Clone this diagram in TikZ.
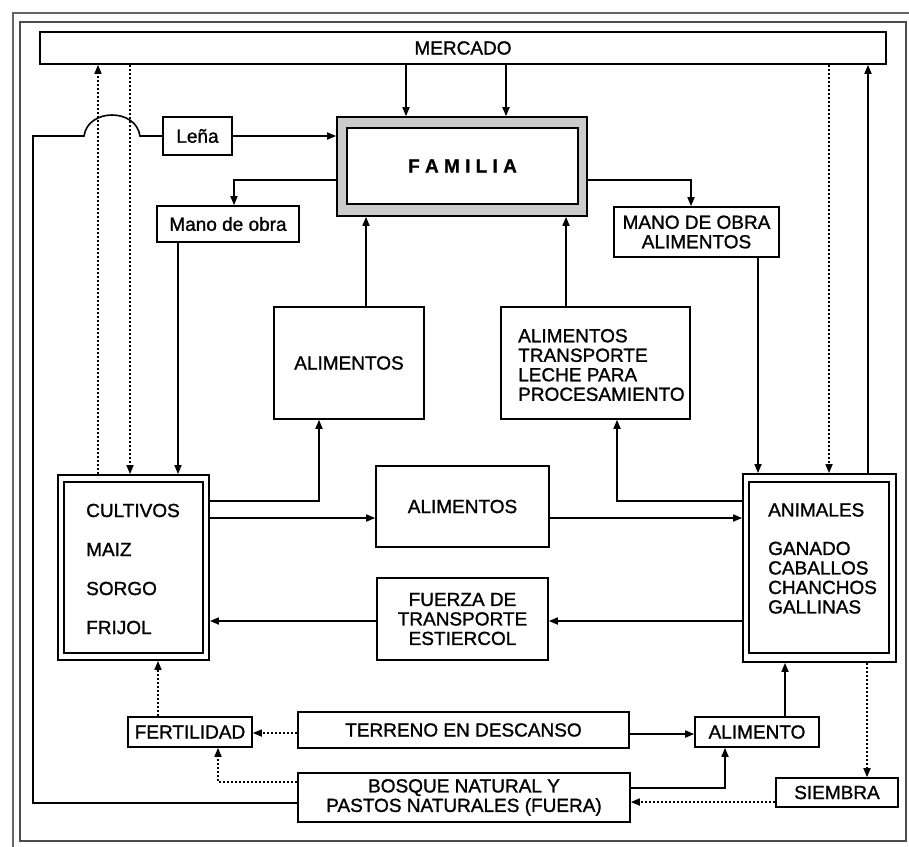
\documentclass[tikz,border=0pt]{standalone}
\usepackage{fontspec}
\setmainfont[FakeBold=1.2]{Liberation Sans}
\usetikzlibrary{arrows.meta}
\begin{document}
\begin{tikzpicture}[x=1pt,y=-1pt,
  every node/.style={inner sep=0pt, align=center, font=\fontsize{19}{19.5}\selectfont},
  box/.style={draw, line width=1.6pt, rectangle},
  arr/.style={line width=1.6pt, -{Triangle[length=9pt,width=7pt]}},
  ln/.style={line width=1.6pt},
  dots/.style={line width=1.6pt, dash pattern=on 2pt off 2pt, -{Triangle[length=9pt,width=7pt]}}
]
\useasboundingbox (0,0) rectangle (909,846);
% page frame
\draw[line width=1.2pt, black!60] (13,13) rectangle (915,852);
\draw[line width=1.5pt, black!70] (20,22) rectangle (906,841);

% boxes
\node[box, minimum width=846, minimum height=32] (merc) at (463,48) {MERCADO};
\node[box, draw=black, fill=gray!40, minimum width=250, minimum height=99] (fam) at (462,166.5) {};
\node[box, fill=white, minimum width=231, minimum height=76] (famin) at (462.5,166) {\bfseries F A M I L I A};
\node[box, minimum width=69, minimum height=38] (lena) at (197.5,136) {Leña};
\node[box, minimum width=142, minimum height=36] (mano) at (228,224) {Mano de obra};
\node[box, minimum width=165, minimum height=50] (mao) at (696.5,232) {MANO DE OBRA\\ALIMENTOS};
\node[box, minimum width=150, minimum height=112] (alA) at (349,363) {ALIMENTOS};
\node[box, minimum width=189, minimum height=112] (alT) at (595.5,363) {};
\node[anchor=west, align=left] (alTtxt) at (518,365) {ALIMENTOS\\TRANSPORTE\\LECHE PARA\\PROCESAMIENTO};

\node[box, line width=1.8pt, minimum width=151, minimum height=185] (cult) at (133.5,567.5) {};
\node[box, line width=1.3pt, minimum width=139, minimum height=171] (cultin) at (133.5,567.5) {};
\node[anchor=west, align=left, font=\fontsize{19}{39}\selectfont] (culttxt) at (86,569) {CULTIVOS\\MAIZ\\SORGO\\FRIJOL};

\node[box, line width=1.8pt, minimum width=153, minimum height=188] (anim) at (819.5,568) {};
\node[box, line width=1.3pt, minimum width=140, minimum height=171] (animin) at (819,567.5) {};
\node[anchor=north west, align=left] (animtxt) at (768,503) {ANIMALES\\[19pt]GANADO\\CABALLOS\\CHANCHOS\\GALLINAS};

\node[box, minimum width=173, minimum height=81] (alM) at (462.5,506.5) {ALIMENTOS};
\node[box, minimum width=171, minimum height=82] (fuer) at (462.5,619) {FUERZA DE\\TRANSPORTE\\ESTIERCOL};

\node[box, minimum width=124, minimum height=30] (fert) at (190,732) {FERTILIDAD};
\node[box, minimum width=331, minimum height=36] (terr) at (463.5,730) {TERRENO EN DESCANSO};
\node[box, minimum width=124, minimum height=30] (alim) at (757,732) {ALIMENTO};
\node[box, minimum width=332, minimum height=49] (bosq) at (464,797.5) {BOSQUE NATURAL Y\\PASTOS NATURALES (FUERA)};
\node[box, minimum width=122, minimum height=29] (siem) at (837,792.5) {SIEMBRA};

% market and family
\draw[arr] (406,0 |- merc.south) -- (406,0 |- fam.north);
\draw[arr] (506,0 |- merc.south) -- (506,0 |- fam.north);
\draw[arr] (lena.east) -- (lena.east -| fam.west);
\draw[arr] (fam.west |- 0,180) -| (234,0 |- mano.north);
\draw[arr] (fam.east |- 0,180) -| (691,0 |- mao.north);
\draw[arr] (366,0 |- alA.north) -- (366,0 |- fam.south);
\draw[arr] (566,0 |- alT.north) -- (566,0 |- fam.south);

% firewood from the forest, hopping over the dotted lines
\draw[ln] (bosq.west |- 0,803) -- (33,803) -- (33,136) -- (84,136)
  .. controls (88,108) and (136,108) .. (140,136) -- (lena.west);

% crops
\draw[dots] (98,0 |- cult.north) -- (98,0 |- merc.south);
\draw[dots] (130,0 |- merc.south) -- (130,0 |- cult.north);
\draw[arr] (178,0 |- mano.south) -- (178,0 |- cult.north);
\draw[arr] (cult.east |- 0,501) -| (319,0 |- alA.south);
\draw[arr] (cult.east |- 0,518) -- (alM.west |- 0,518);
\draw[arr] (alM.east |- 0,518) -- (anim.west |- 0,518);
\draw[arr] (anim.west |- 0,621) -- (fuer.east |- 0,621);
\draw[arr] (fuer.west |- 0,621) -- (cult.east |- 0,621);

% animals
\draw[arr] (758,0 |- mao.south) -- (758,0 |- anim.north);
\draw[dots] (829,0 |- merc.south) -- (829,0 |- anim.north);
\draw[arr] (868,0 |- anim.north) -- (868,0 |- merc.south);
\draw[arr] (anim.west |- 0,501) -| (617,0 |- alT.south);
\draw[arr] (785,0 |- alim.north) -- (785,0 |- anim.south);
\draw[dots] (867,0 |- anim.south) -- (867,0 |- siem.north);

% land
\draw[arr] (terr.east |- 0,734) -- (alim.west |- 0,734);
\draw[dots] (terr.west |- 0,733) -- (fert.east |- 0,733);
\draw[dots] (158,0 |- fert.north) -- (158,0 |- cult.south);
\draw[arr] (bosq.east |- 0,788) -| (725,0 |- alim.south);
\draw[dots] (bosq.west |- 0,782) -| (218,0 |- fert.south);
\draw[dots] (siem.west |- 0,802) -- (bosq.east |- 0,802);
\end{tikzpicture}
\end{document}
